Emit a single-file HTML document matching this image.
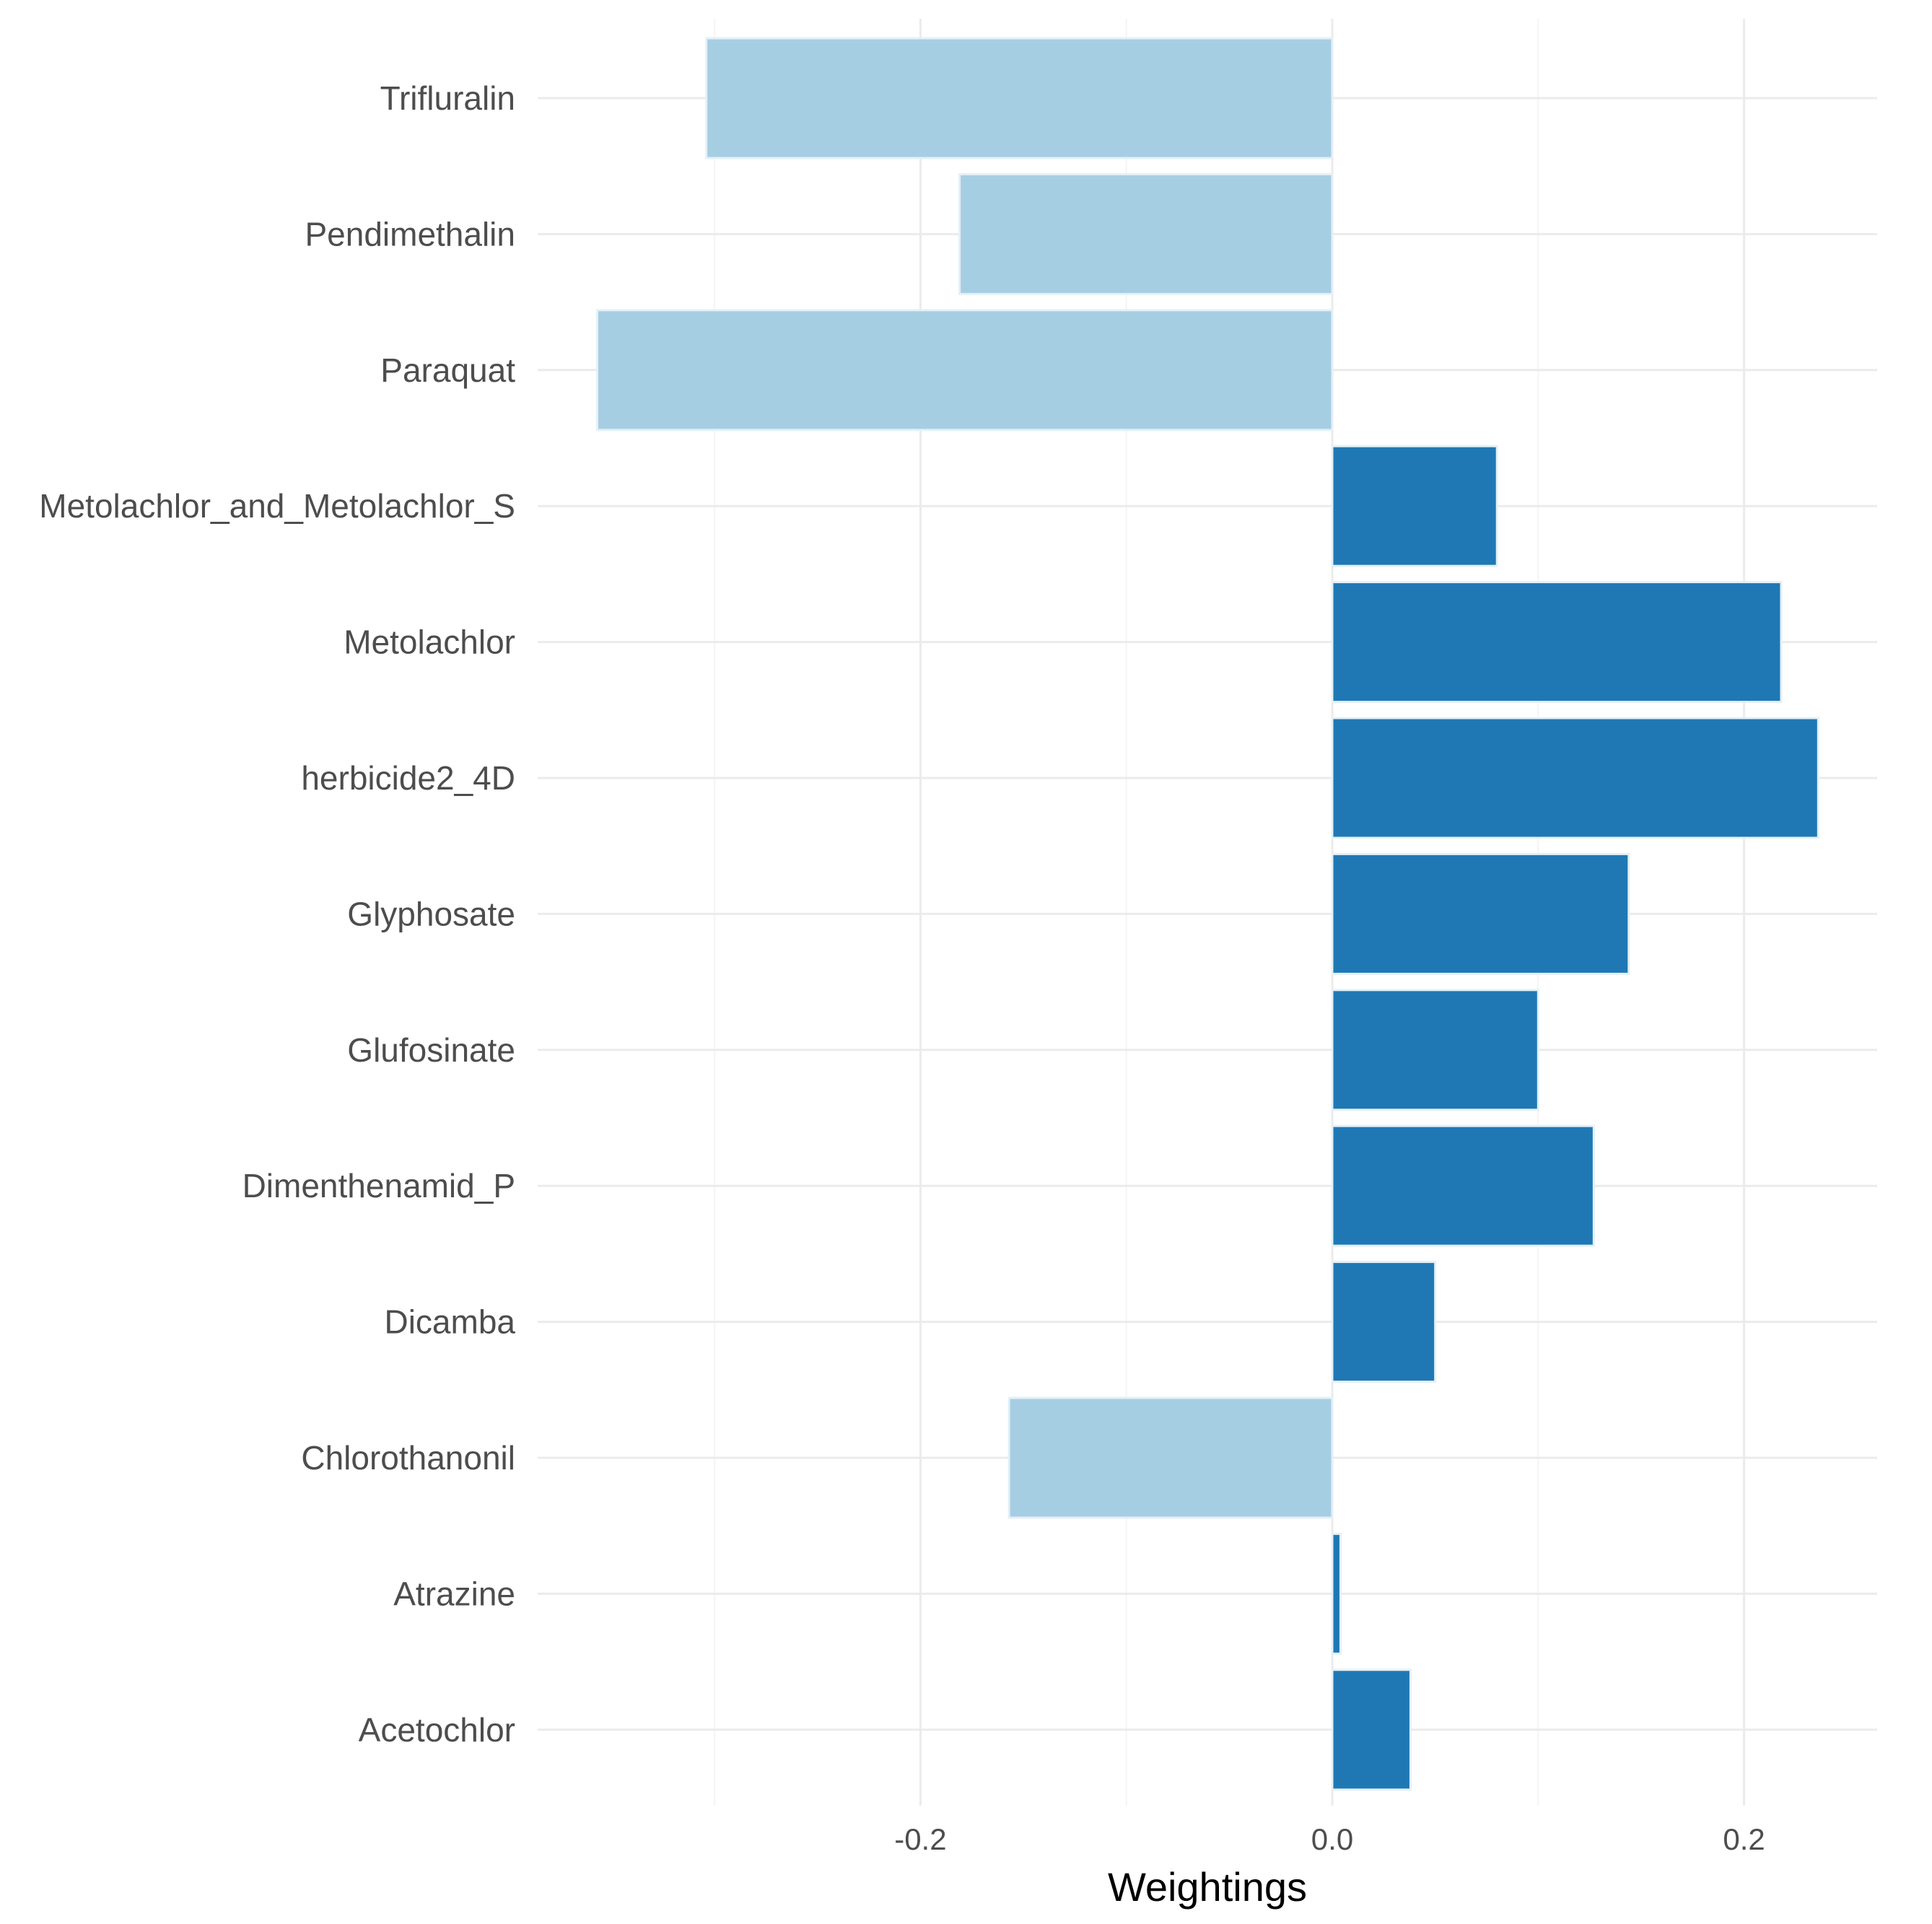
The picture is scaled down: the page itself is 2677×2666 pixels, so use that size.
<!DOCTYPE html>
<html><head><meta charset="utf-8"><style>
html,body{margin:0;padding:0;background:#fff;}
svg{display:block;font-family:"Liberation Sans",Arial,sans-serif;}
</style></head><body>
<svg id="chart" width="2677" height="2666" viewBox="0 0 2677 2666" xmlns="http://www.w3.org/2000/svg">
<g id="grid"></g>
<g id="bars"></g>
<g id="ylabels"></g>
<g id="xlabels"></g>
<text x="1673" y="2634" font-size="56" text-anchor="middle" fill="#000">Weightings</text>
</svg>
<script>
const categories = ["Trifluralin","Pendimethalin","Paraquat","Metolachlor_and_Metolachlor_S","Metolachlor","herbicide2_4D","Glyphosate","Glufosinate","Dimenthenamid_P","Dicamba","Chlorothanonil","Atrazine","Acetochlor"];
const weights = [-0.304,-0.181,-0.357,0.080,0.218,0.236,0.144,0.100,0.127,0.050,-0.157,0.004,0.038];
const majorTicks = [-0.2,0.0,0.2];
const tickLabels = ["-0.2","0.0","0.2"];
const minorTicks = [-0.3,-0.1,0.1];

const NS="http://www.w3.org/2000/svg";
const panelL=745, panelR=2601, panelT=26, panelB=2502;
const x0=1846, pxPerUnit=2853;
function xs(v){return x0+v*pxPerUnit;}
const step=188.4, firstY=136;
function ys(i){return firstY+i*step;}
const barH=166;
function mk(tag,attrs,parent){const e=document.createElementNS(NS,tag);for(const k in attrs)e.setAttribute(k,attrs[k]);parent.appendChild(e);return e;}
const grid=document.getElementById('grid'),bars=document.getElementById('bars'),yl=document.getElementById('ylabels'),xl=document.getElementById('xlabels');
minorTicks.forEach(t=>{
  const l=mk('line',{x1:xs(t),x2:xs(t),y1:panelT,y2:panelB,stroke:'#f4f4f4','stroke-width':2},grid);
  
  
});
majorTicks.forEach((t,i)=>{
  const l=mk('line',{x1:xs(t),x2:xs(t),y1:panelT,y2:panelB,stroke:'#ebebeb','stroke-width':3},grid);
  
  
  const tx=mk('text',{x:xs(t),y:2563,'font-size':42,'text-anchor':'middle',fill:'#4d4d4d'},xl);
  tx.textContent=tickLabels[i];
  
  
});
categories.forEach((c,i)=>{
  const y=ys(i);
  const g=mk('line',{x1:panelL,x2:panelR,y1:y,y2:y,stroke:'#ebebeb','stroke-width':3},grid);
  
  
  const v=weights[i];
  const r=mk('rect',{x:Math.min(xs(0),xs(v)),y:y-barH/2,width:Math.abs(xs(v)-xs(0)),height:barH,fill:v<0?'#a6cee3':'#1f78b4',stroke:'#e4f0f7','stroke-width':3},bars);
  
  
  const t=mk('text',{x:714,y:y+16,'font-size':46,'text-anchor':'end',fill:'#4d4d4d'},yl);
  t.textContent=c;
  
  
});
</script>
</body></html>
